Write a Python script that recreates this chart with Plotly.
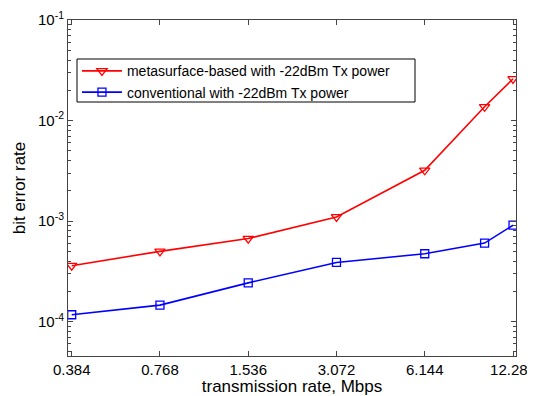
import math
import plotly.graph_objects as go

rate_mbps = [0.384, 0.768, 1.536, 3.072, 6.144, 9.83, 12.288]
ber_metasurface = [3.6e-4, 5.0e-4, 6.7e-4, 1.1e-3, 3.2e-3, 1.37e-2, 2.6e-2]
ber_conventional = [1.17e-4, 1.46e-4, 2.43e-4, 3.88e-4, 4.73e-4, 6.04e-4, 9.1e-4]
x_tick_vals = [0.384, 0.768, 1.536, 3.072, 6.144, 12.288]
x_tick_text = ["0.384", "0.768", "1.536", "3.072", "6.144", "12.288"]
y_tick_vals = [1e-4, 1e-3, 1e-2, 1e-1]
y_tick_text = ["10<sup>-4</sup>", "10<sup>-3</sup>", "10<sup>-2</sup>", "10<sup>-1</sup>"]
y_minor_vals = [m * 10.0 ** e for e in (-5, -4, -3, -2) for m in range(2, 10)]

FONT = "Liberation Sans"

fig = go.Figure()
fig.add_trace(go.Scatter(
    x=rate_mbps, y=ber_metasurface, mode="lines+markers",
    name="metasurface-based with -22dBm Tx power",
    line=dict(color="#ff0000", width=1.6),
    marker=dict(symbol="triangle-down-open", size=9, color="#ff0000", line=dict(width=1.3)),
))
fig.add_trace(go.Scatter(
    x=rate_mbps, y=ber_conventional, mode="lines+markers",
    name="conventional with -22dBm Tx power",
    line=dict(color="#0000ff", width=1.6),
    marker=dict(symbol="square-open", size=8, color="#0000ff", line=dict(width=1.3)),
))

# legend frame drawn as a paper-space rectangle (plot area: 448 x 336 px)
fig.add_shape(type="rect", xref="paper", yref="paper",
              x0=9 / 448, x1=347 / 448, y0=254 / 336, y1=297 / 336,
              line=dict(color="black", width=1), fillcolor="white", layer="below")

# page body has an 8px margin: the figure is drawn offset by (8, 8)
fig.update_layout(
    width=527, height=388,
    margin=dict(l=60, r=19, t=12, b=40),
    paper_bgcolor="white", plot_bgcolor="white",
    font=dict(family=FONT, size=15, color="black"),
    legend=dict(
        x=0.02, y=0.895, xanchor="left", yanchor="top",
        borderwidth=0, bgcolor="rgba(0,0,0,0)",
        font=dict(family=FONT, size=14), tracegroupgap=0, itemwidth=40,
    ),
    xaxis=dict(
        type="log", range=[math.log10(0.373), math.log10(12.58)],
        tickvals=x_tick_vals, ticktext=x_tick_text, automargin=False,
        ticklabeloverflow="allow",
        ticks="inside", ticklen=5, tickcolor="#444", mirror="ticks",
        showline=True, linecolor="#444", linewidth=1, showgrid=False, zeroline=False,
        title=dict(text="transmission rate, Mbps", font=dict(family=FONT, size=17), standoff=2),
    ),
    yaxis=dict(
        type="log", range=[math.log10(4.55e-5), -1],
        tickvals=y_tick_vals, ticktext=y_tick_text, automargin=False,
        ticks="inside", ticklen=5, tickcolor="#444", mirror="ticks",
        showline=True, linecolor="#444", linewidth=1, showgrid=False, zeroline=False,
        minor=dict(ticks="inside", ticklen=3, tickcolor="#444", showgrid=False,
                   tickmode="array", tickvals=y_minor_vals),
        title=dict(text="bit error rate", font=dict(family=FONT, size=17), standoff=8),
    ),
)
fig.write_html("out.html")
